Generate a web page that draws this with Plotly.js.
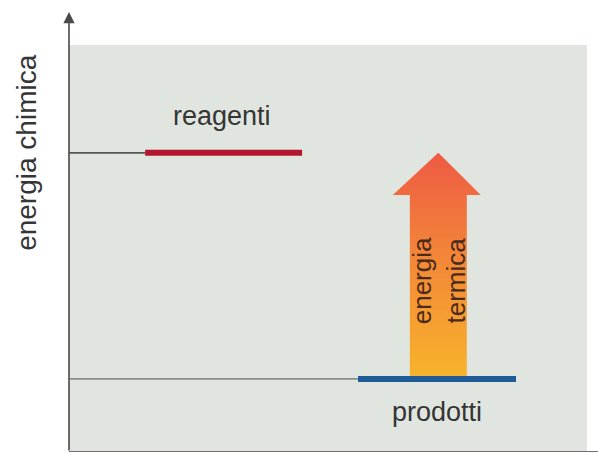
<!DOCTYPE html>
<html>
<head>
<meta charset="utf-8">
<script src="https://cdn.plot.ly/plotly-3.0.1.min.js"></script>
<style>html,body{margin:0;padding:0;background:#fff;}#chart{width:598px;height:454px;}</style>
</head>
<body>
<div id="chart"></div>
<script>
// Data (arbitrary units, no ticks on the original)
const levelNames = ["reagenti", "prodotti"];
const levelEnergy = [6.8, 1.66];          // energia chimica
const levelStart = [1.47, 5.58];          // start of the coloured segment
const levelEnd = [4.5, 8.63];             // end of the coloured segment
const levelColors = ["#b3172f", "#1e5b96"];
const leadColors = ["#555555", "#8a8f8c"];
const arrowLabel = "energia<br>termica";
const yLabel = "energia chimica";

// Arrow (energia termica) spanning from prodotti level up to reagenti level
const arrowBody = [6.58, 7.68];
const arrowHead = [6.25, 7.95];
const arrowHeadBase = 5.84;

const FONT = "Liberation Sans, Arial, sans-serif";
const traces = [];

levelNames.forEach((n, i) => {
  traces.push({
    x: [0, levelStart[i]], y: [levelEnergy[i], levelEnergy[i]],
    mode: "lines", line: {color: leadColors[i], width: 1.8},
    hoverinfo: "skip", showlegend: false
  });
  traces.push({
    x: [levelStart[i], levelEnd[i]], y: [levelEnergy[i], levelEnergy[i]],
    mode: "lines", line: {color: levelColors[i], width: 6},
    hoverinfo: "skip", showlegend: false
  });
});

const tipX = (arrowBody[0] + arrowBody[1]) / 2;
const ax = [arrowBody[0], arrowBody[0], arrowHead[0], tipX, arrowHead[1], arrowBody[1], arrowBody[1], arrowBody[0]];
const ay = [levelEnergy[1], arrowHeadBase, arrowHeadBase, levelEnergy[0], arrowHeadBase, arrowHeadBase, levelEnergy[1], levelEnergy[1]];
traces.splice(2, 0, {
  x: ax, y: ay, mode: "lines", fill: "toself",
  line: {width: 0, color: "rgba(0,0,0,0)"},
  fillgradient: {type: "vertical", colorscale: [[0, "#f7b42b"], [0.5, "#f38a37"], [1, "#ee5a44"]]},
  hoverinfo: "skip", showlegend: false
});

const layout = {
  width: 598, height: 454,
  margin: {l: 69, r: 11, t: 12, b: 2},
  paper_bgcolor: "#ffffff",
  plot_bgcolor: "#ffffff",
  showlegend: false,
  xaxis: {range: [0, 10], showgrid: false, zeroline: false, showticklabels: false, ticks: "", fixedrange: true},
  yaxis: {range: [0, 10], showgrid: false, zeroline: false, showticklabels: false, ticks: "", fixedrange: true},
  shapes: [
    {type: "rect", xref: "x", yref: "y", x0: 0, x1: 10, y0: 0, y1: 9.25, fillcolor: "#e1e5e0", line: {width: 0}, layer: "below"},
    {type: "line", xref: "paper", yref: "y", x0: 0, x1: 1.03, y0: 0.0, y1: 0.0, line: {color: "#6e6e6e", width: 2}}
  ],
  annotations: [
    {xref: "x", yref: "y", x: 0, y: 10, ax: 0, ay: 0.0, axref: "x", ayref: "y",
     showarrow: true, arrowhead: 2, arrowsize: 1.4, arrowwidth: 1.6, arrowcolor: "#4a4a4a", text: ""},
    {xref: "x", yref: "y", x: 2.95, y: 7.64, text: levelNames[0], showarrow: false,
     font: {family: FONT, size: 27, color: "#353535"}},
    {xref: "x", yref: "y", x: 7.1, y: 0.91, text: levelNames[1], showarrow: false,
     font: {family: FONT, size: 27, color: "#353535"}},
    {xref: "x", yref: "y", x: 7.16, y: 3.9, text: arrowLabel, textangle: -90, showarrow: false,
     font: {family: FONT, size: 26, color: "#4a2a1a"}},
    {xref: "paper", yref: "y", x: -0.081, y: 6.8, xanchor: "center", text: yLabel, textangle: -90, showarrow: false,
     font: {family: FONT, size: 28, color: "#353535"}}
  ]
};

Plotly.newPlot("chart", traces, layout, {staticPlot: true, displayModeBar: false});
</script>
</body>
</html>
